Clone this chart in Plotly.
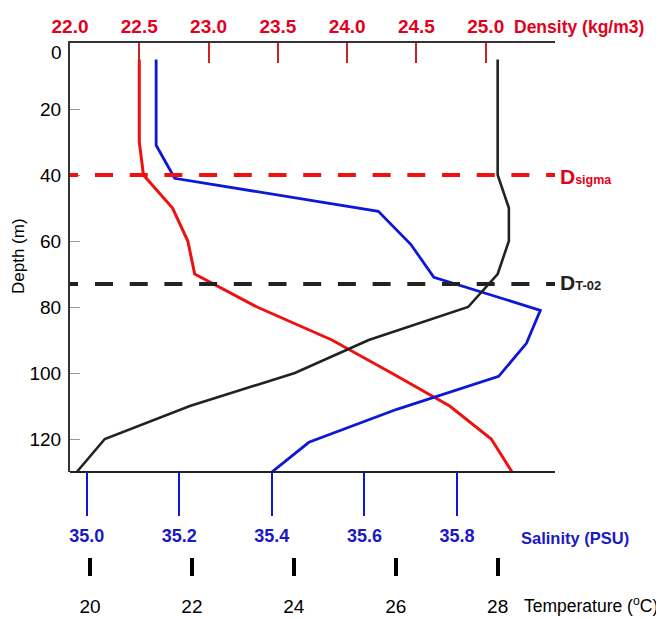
import plotly.graph_objects as go

# ---------------- data ----------------
dens_depth = [5, 30, 40, 50, 60, 70, 80, 90, 100, 110, 120, 130]
density = [22.50, 22.50, 22.53, 22.74, 22.85, 22.90, 23.35, 23.89, 24.32, 24.74, 25.04, 25.19]

sal_depth = [5, 31, 41, 51, 61, 71, 81, 91, 101, 111, 121, 130]
salinity = [35.15, 35.15, 35.19, 35.63, 35.70, 35.75, 35.98, 35.95, 35.89, 35.67, 35.48, 35.40]

temp_depth = [5, 40, 50, 60, 70, 80, 90, 100, 110, 120, 130]
temperature = [28.0, 28.0, 28.22, 28.22, 28.0, 27.42, 25.47, 24.02, 21.96, 20.29, 19.74]

depth_ticks = [0, 20, 40, 60, 80, 100, 120]
dens_ticks = [22.0, 22.5, 23.0, 23.5, 24.0, 24.5, 25.0]
sal_ticks = [35.0, 35.2, 35.4, 35.6, 35.8]
temp_ticks = [20, 22, 24, 26, 28]

d_sigma = 40
d_t02 = 73

# ---------------- layout geometry ----------------
# the page body has an 8px default margin, so the figure is 8px smaller and
# all target pixel positions (window coordinates) are shifted by OFF
OFF = 8
W, H = 664 - OFF, 619 - OFF
L, T = 70 - OFF, 43 - OFF
R = W - (555 - OFF)
B = H - (575 - OFF)
PW, PH = W - L - R, H - T - B
plot_bottom_px = 472


def px_x(x):
    return (x - OFF - L) / PW


def px_y(y):
    return (H - B - (y - OFF)) / PH


ybot = px_y(plot_bottom_px)

FONT = "Liberation Sans, Arial, sans-serif"
RED = "#ee1111"
RED_TXT = "#e3001b"
BLUE = "#0c18d6"
BLUE_TXT = "#1a1ac4"
BLACK = "#222222"

fig = go.Figure()

fig.add_trace(go.Scatter(x=density, y=dens_depth, mode="lines", xaxis="x", yaxis="y",
                         line=dict(color=RED, width=3), showlegend=False))
fig.add_trace(go.Scatter(x=salinity, y=sal_depth, mode="lines", xaxis="x2", yaxis="y",
                         line=dict(color=BLUE, width=2.8), showlegend=False))
fig.add_trace(go.Scatter(x=temperature, y=temp_depth, mode="lines", xaxis="x3", yaxis="y",
                         line=dict(color=BLACK, width=2.6), showlegend=False))

dash = "8px,17px," + ",".join(["18px,16.7px"] * 16)
fig.add_shape(type="line", xref="paper", yref="y", x0=0, x1=1, y0=d_sigma, y1=d_sigma,
              line=dict(color=RED, width=4, dash=dash))
fig.add_shape(type="line", xref="paper", yref="y", x0=0, x1=1, y0=d_t02, y1=d_t02,
              line=dict(color=BLACK, width=4, dash=dash))

depth_text = ["" if v == 0 else str(v) for v in depth_ticks]

fig.update_layout(
    width=W, height=H, autosize=False,
    margin=dict(l=L, r=R, t=T, b=B, pad=0),
    plot_bgcolor="white", paper_bgcolor="white",
    font=dict(family=FONT, color="black"),
    xaxis=dict(domain=[0, 1], anchor="y", side="top", range=[22.0, 25.5],
               tickvals=dens_ticks, ticktext=[f"{v:.1f}" for v in dens_ticks],
               ticks="inside", ticklen=20, tickwidth=1.5, tickcolor="#cc2222",
               tickfont=dict(family=FONT, size=19, color=RED_TXT, weight="bold"),
               showline=True, linecolor="#333333", linewidth=2, automargin=False,
               showgrid=False, zeroline=False, ticklabelstandoff=0),
    xaxis2=dict(overlaying="x", anchor="free", position=ybot, side="bottom",
                range=[34.9639, 36.0117], tickvals=sal_ticks,
                ticktext=[f"{v:.1f}" for v in sal_ticks],
                ticks="outside", ticklen=43, tickwidth=1.5, tickcolor=BLUE,
                tickfont=dict(family=FONT, size=18, color=BLUE_TXT, weight="bold"),
                showline=True, linecolor=BLACK, linewidth=2, automargin=False,
                showgrid=False, zeroline=False, ticklabelstandoff=4),
    xaxis3=dict(overlaying="x", anchor="free", position=px_y(557), side="bottom",
                range=[19.6075, 29.125], tickvals=temp_ticks,
                ticktext=[str(v) for v in temp_ticks],
                ticks="outside", ticklen=18, tickwidth=3.5, tickcolor="black",
                tickfont=dict(family=FONT, size=19, color="black"), automargin=False,
                showline=False, showgrid=False, zeroline=False, ticklabelstandoff=14),
    yaxis=dict(domain=[ybot, 1], anchor="x", range=[130, 0],
               tickvals=depth_ticks, ticktext=depth_text,
               ticks="inside", ticklen=10, tickwidth=1.2, tickcolor="#999999",
               tickfont=dict(family=FONT, size=19, color="black"),
               showline=True, linecolor="#333333", linewidth=2, automargin=False,
               showgrid=False, zeroline=False, ticklabelstandoff=3),
    yaxis2=dict(overlaying="y", anchor="x", side="right", range=[130, 0],
                tickvals=depth_ticks[1:], ticks="inside", ticklen=10, tickwidth=2,
                tickcolor="black", showticklabels=False, automargin=False,
                showline=True, linecolor="black", linewidth=2,
                showgrid=False, zeroline=False),
)

annotations = [
    # the "0" depth label sits a little below the top edge in the reference
    dict(text=str(depth_ticks[0]), x=px_x(64), y=3, yref="y", xanchor="right",
         font=dict(family=FONT, size=19, color="black")),
    dict(text="Depth (m)", x=px_x(18), y=px_y(256), textangle=-90, xanchor="center",
         font=dict(family=FONT, size=17, color="black")),
    dict(text="Density (kg/m3)", x=px_x(512), y=px_y(27), xanchor="left",
         font=dict(family=FONT, size=17.5, color=RED_TXT, weight="bold")),
    dict(text="Salinity (PSU)", x=px_x(519), y=px_y(538), xanchor="left",
         font=dict(family=FONT, size=16.5, color=BLUE_TXT, weight="bold")),
    dict(text="Temperature (<sup>o</sup>C)", x=px_x(522), y=px_y(605), xanchor="left",
         font=dict(family=FONT, size=17.5, color="black")),
    dict(text="D<span style='font-size:12.5px'>sigma</span>", x=px_x(558), y=px_y(177),
         xanchor="left",
         font=dict(family=FONT, size=21, color=RED_TXT, weight="bold")),
    dict(text="D<span style='font-size:13px'>T-02</span>", x=px_x(558), y=px_y(282),
         xanchor="left",
         font=dict(family=FONT, size=21, color=BLACK, weight="bold")),
]
for a in annotations:
    a.setdefault("xref", "paper")
    a.setdefault("yref", "paper")
    a.setdefault("showarrow", False)
    a.setdefault("yanchor", "middle")
    fig.add_annotation(**a)

fig.write_html("out.html")
